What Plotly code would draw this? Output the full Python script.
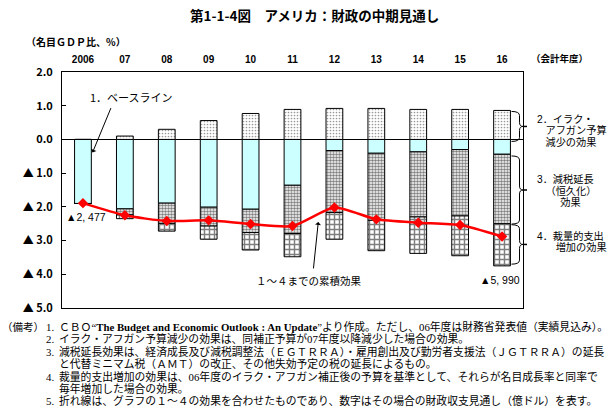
import plotly.graph_objects as go

# ---------------- data ----------------
years = ["2006", "07", "08", "09", "10", "11", "12", "13", "14", "15", "16"]
baseline = [-1.90, -2.06, -1.89, -2.01, -2.07, -1.36, -0.33, -0.41, -0.37, -0.30, -0.44]
iraq_effect = [0.00, 0.10, 0.30, 0.56, 0.77, 0.89, 0.92, 0.92, 0.89, 0.89, 0.86]
tax_effect = [0.00, 0.18, 0.60, 0.56, 0.69, 1.43, 1.84, 1.99, 1.93, 1.97, 2.06]
spend_effect = [0.00, 0.11, 0.23, 0.39, 0.52, 0.69, 0.79, 0.90, 1.08, 1.18, 1.25]
cumulative = [-1.89, -2.25, -2.42, -2.40, -2.51, -2.57, -2.02, -2.37, -2.47, -2.54, -2.88]
ytick_vals = [2, 1, 0, -1, -2, -3, -4, -5]
ytick_text = ["2.0", "1.0", "0.0", "▲ 1.0", "▲ 2.0", "▲ 3.0", "▲ 4.0", "▲ 5.0"]
first_label = "▲2, 477"
last_label = "▲5, 990"

JP = "Noto Sans CJK JP"
SANS = "Liberation Sans"
SERIF = "Liberation Serif"
MIX_SANS = "Liberation Sans, Noto Sans CJK JP"
MIX_SERIF = "Liberation Serif, Noto Sans CJK JP"

# derived bases for stacking
tax_base = baseline
tax_vals = [-t for t in tax_effect]
spend_base = [b - t for b, t in zip(baseline, tax_effect)]
spend_vals = [-s for s in spend_effect]

BW = 0.4
outline = dict(color="black", width=1)

fig = go.Figure()
fig.add_trace(go.Bar(x=years, y=baseline, base=[0] * len(years), width=BW,
                     marker=dict(color="#CCFFFF", line=outline), name="baseline"))
fig.add_trace(go.Bar(x=years, y=iraq_effect, base=[0] * len(years), width=BW,
                     marker=dict(color="white", line=outline,
                                 pattern=dict(shape=".", fgcolor="#333333", bgcolor="white",
                                              size=3, solidity=0.25)), name="iraq"))
fig.add_trace(go.Bar(x=years, y=tax_vals, base=tax_base, width=BW,
                     marker=dict(color="white", line=outline,
                                 pattern=dict(shape=".", fgcolor="black", bgcolor="white",
                                              size=3, solidity=0.55)), name="tax"))
fig.add_trace(go.Bar(x=years, y=spend_vals, base=spend_base, width=BW,
                     marker=dict(color="white", line=outline,
                                 pattern=dict(shape="+", fgcolor="black", bgcolor="white",
                                              size=5, solidity=0.5)), name="spend"))
fig.add_trace(go.Scatter(x=years, y=cumulative, mode="lines+markers",
                         line=dict(color="#FF0000", width=2.5, shape="spline", smoothing=0.6),
                         marker=dict(symbol="diamond", size=8, color="#FF0000"), name="line"))

# plot area in pixels
L, R, T, B = 62, 523, 71.7, 308.3


def px(x):
    return (x - L) / (R - L)


def py(y):
    return (B - y) / (B - T)


ann = []


def text(x, y, s, size=10.5, anchor="left", family=JP, color="black", weight="normal"):
    ann.append(dict(x=px(x), y=py(y), xref="paper", yref="paper", text=s, showarrow=False,
                    xanchor=anchor, yanchor="middle", align="left",
                    font=dict(family=family, size=size, color=color, weight=weight)))


def block(x, y, rows, spacing, size, family=MIX_SANS):
    """multi-line text: line spacing from base font, glyph size from span"""
    base = spacing / 1.3
    body = "<br>".join(
        "".join(f"<span style=\"font-size:{size}px;{st}\">{seg}</span>" for seg, st in r)
        for r in rows)
    ann.append(dict(x=px(x), y=py(y), xref="paper", yref="paper", text=body, showarrow=False,
                    xanchor="left", yanchor="middle", align="left",
                    font=dict(family=family, size=base, color="black")))


# title and axis captions
text(314, 15, "第1-1-4図　アメリカ：財政の中期見通し", size=13.5, anchor="center", weight="bold")
text(24, 41, "（名目ＧＤＰ比、%）", size=10, weight="bold")
text(529, 58, "（会計年度）", size=9.5, weight="bold")

# in-plot labels
text(88, 97, "1．ベースライン", size=11)
text(309, 281, "１～４までの累積効果", size=10.5, anchor="center")
text(86, 217.5, first_label, size=10.5, anchor="center", family=SANS)
text(500, 280, last_label, size=10.5, anchor="center", family=SANS)

# right-hand labels
NB = "\u00a0"
IS = "\u3000"
block(535, 130.5, [[("2．イラク・", "")], [(NB * 3 + "アフガン予算", "")],
                   [(NB * 3 + "減少の効果", "")]], 11.4, 10.2)
block(535, 190, [[("3．減税延長", "")], [(NB * 3 + "（恒久化）", "")],
                 [(IS * 2 + NB + "効果", "")]], 11.7, 10.2)
block(535, 242, [[("4．裁量的支出", "")], [(IS + NB * 3 + "増加の効果", "")]], 11.4, 10.2)

# arrows
ann.append(dict(x=px(92.5), y=py(152.5), xref="paper", yref="paper", text="", showarrow=True,
                ax=19, ay=-46, arrowhead=1, arrowsize=1, arrowwidth=1, arrowcolor="black"))
ann.append(dict(x=px(318.3), y=py(222), xref="paper", yref="paper", text="", showarrow=True,
                ax=-5, ay=48, arrowhead=1, arrowsize=1, arrowwidth=1, arrowcolor="black"))

# notes
NS = 10.8
SP = 12.4
text(0, 327, "（備考）", size=10.5)
serif_bold = "font-weight:bold;"
note_rows = [
    [("ＣＢＯ“", ""), ("The Budget and Economic Outlook : An Update", serif_bold),
     ("”より作成。ただし、06年度は財務省発表値（実績見込み）。", "")],
    [("イラク・アフガン予算減少の効果は、同補正予算が07年度以降減少した場合の効果。", "")],
    [("減税延長効果は、経済成長及び減税調整法（ＥＧＴＲＲＡ）・雇用創出及び勤労者支援法（ＪＧＴＲＲＡ）の延長", "")],
    [("と代替ミニマム税（ＡＭＴ）の改正、その他失効予定の税の延長によるもの。", "")],
    [("裁量的支出増加の効果は、06年度のイラク・アフガン補正後の予算を基準として、それらが名目成長率と同率で", "")],
    [("毎年増加した場合の効果。", "")],
    [("折れ線は、グラフの１～４の効果を合わせたものであり、数字はその場合の財政収支見通し（億ドル）を表す。", "")],
]
num_rows = [[(n, "")] for n in ["1.", "2.", "3.", NB, "4.", NB, "5."]]
mid = 327 + SP * 3
block(44, mid, num_rows, SP, 10.8, family=MIX_SERIF)
block(57, mid, note_rows, SP, NS, family=MIX_SERIF)

# braces on the right (spanning the 2016 components)
def brace(ya, yb, r=0.12):
    x0, xm, xt = px(511.5), px(519.5), px(523)
    ym = (ya + yb) / 2
    return (f"M {x0},{ya} Q {xm},{ya} {xm},{ya - r} L {xm},{ym + r} "
            f"Q {xm},{ym} {xt},{ym} Q {xm},{ym} {xm},{ym - r} "
            f"L {xm},{yb + r} Q {xm},{yb} {x0},{yb}")


last = len(years) - 1
spans = [
    (iraq_effect[last] - 0.03, -0.06),
    (baseline[last] - 0.05, baseline[last] - tax_effect[last] - 0.01),
    (baseline[last] - tax_effect[last] - 0.03, baseline[last] - tax_effect[last] - spend_effect[last] + 0.05),
]
shapes = []
for ya, yb in spans:
    shapes.append(dict(type="path", xref="paper", yref="y", path=brace(ya, yb),
                       line=dict(color="black", width=1)))
    ym = (ya + yb) / 2
    shapes.append(dict(type="line", xref="paper", yref="y", x0=1.0, x1=px(527), y0=ym, y1=ym,
                       line=dict(color="black", width=1.5)))

fig.update_layout(
    width=616, height=411,
    margin=dict(l=L, r=616 - R, t=T, b=411 - B),
    paper_bgcolor="white", plot_bgcolor="white",
    barmode="overlay", showlegend=False,
    annotations=ann, shapes=shapes,
    font=dict(family=JP, color="black"),
    xaxis=dict(type="category", side="top", showline=True, mirror=True, linecolor="black",
               linewidth=1, ticks="", showgrid=False, range=[-0.5, 10.5],
               tickfont=dict(family=SANS, size=10, weight="bold"), ticklabelstandoff=4),
    yaxis=dict(range=[-5, 2], tickvals=ytick_vals, ticktext=ytick_text, ticks="inside",
               ticklen=4, tickcolor="black", showline=True, mirror=True, linecolor="black",
               linewidth=1, showgrid=False, zeroline=True, zerolinecolor="black",
               zerolinewidth=1, tickfont=dict(family=JP, size=11, weight="bold"),
               ticklabelstandoff=6),
)

fig.write_html("out.html")
